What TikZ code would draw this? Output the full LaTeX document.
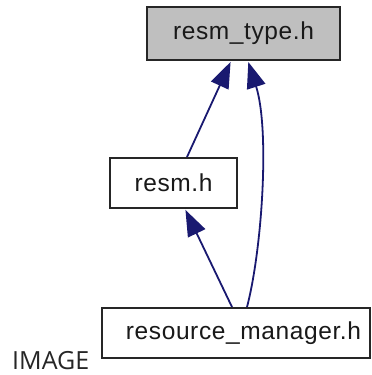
\documentclass[tikz,border=0pt]{standalone}
\usepackage{fontspec}
\setmainfont{Liberation Sans}[LetterSpace=2.5]
\newfontfamily\captionfont{Open Sans}
\usetikzlibrary{arrows.meta}
\definecolor{edgeblue}{HTML}{191970}
\definecolor{boxgray}{HTML}{BFBFBF}
\begin{document}
\begin{tikzpicture}[x=1pt,y=-1pt,
  filebox/.style={draw=black!85, line width=2pt, rectangle, inner sep=0pt,
    font=\fontsize{24.5}{28}\selectfont, text=black!90},
  dep/.style={draw=edgeblue, line width=1.8pt,
    -{Triangle[length=26pt,width=19pt]}, shorten >=1pt}]
\useasboundingbox (0,0) rectangle (372,375);

\node[filebox, fill=boxgray, minimum width=193pt, minimum height=53pt] (type) at (243.5,33.5) {resm\_type.h};
\node[filebox, fill=white, minimum width=127pt, minimum height=50pt] (resm) at (173.5,183) {resm.h};
\node[filebox, fill=white, minimum width=268pt, minimum height=50pt] (mgr) at (236,333) {\hspace*{15pt}resource\_manager.h};
\node[anchor=base west, inner sep=0pt, font=\captionfont\fontsize{25}{29}\selectfont, text=black!85] (caption) at (12,369) {IMAGE};

\draw[dep] ([xshift=13.5pt]resm.north) -- ([xshift=-12.5pt]type.south);
\draw[dep] ([xshift=-4pt]mgr.north) -- ([xshift=11.5pt]resm.south);
\draw[dep] ([xshift=11pt]mgr.north) .. controls (262,250) and (270,130) .. ([xshift=4.5pt]type.south);
\end{tikzpicture}
\end{document}
